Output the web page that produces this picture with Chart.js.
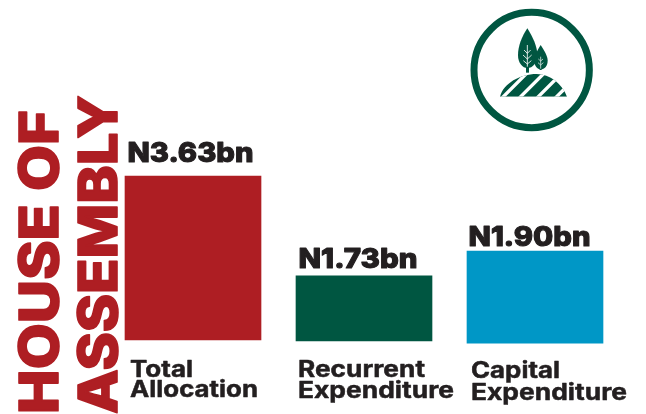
<!DOCTYPE html>
<html>
<head>
<meta charset="utf-8">
<style>
  html, body { margin: 0; padding: 0; background: #fff; }
  #wrap { position: relative; width: 646px; height: 414px; overflow: hidden; }
  #logo { position: absolute; left: 440px; top: 0; }
</style>
<script src="https://cdn.jsdelivr.net/npm/chart.js@4"></script>
</head>
<body>
<div id="wrap">
  <canvas id="chart" width="646" height="414"></canvas>
  <svg id="logo" width="180" height="150" viewBox="0 0 540 450">
    <defs>
      <clipPath id="hillClip">
        <path d="M180 290 C190 250 240 222 290 222 C330 222 365 250 381 290 Z"/>
      </clipPath>
    </defs>
    <circle cx="275" cy="210" r="173" fill="none" stroke="#005641" stroke-width="21"/>
    <!-- big tree -->
    <rect x="258" y="170" width="9" height="48" fill="#005641"/>
    <path d="M262 85 C245 110 234 140 234 165 C234 190 248 204 262 204 C278 204 292 190 292 165 C292 140 278 110 262 85 Z" fill="#005641"/>
    <path d="M262 135 V200 M262 160 L252 150 M262 160 L272 150 M262 177 L249 165 M262 177 L275 165 M262 192 L250 182 M262 192 L274 182" stroke="#fff" stroke-width="2.5" fill="none"/>
    <!-- small tree -->
    <rect x="299" y="190" width="6" height="20" fill="#005641"/>
    <path d="M302 135 C292 150 283 168 283 182 C283 198 292 208 302 208 C314 208 323 198 323 182 C323 168 312 150 302 135 Z" fill="#005641"/>
    <path d="M302 170 V206 M302 183 L295 177 M302 183 L309 177 M302 195 L294 188 M302 195 L310 188" stroke="#fff" stroke-width="2" fill="none"/>
    <!-- hill with stripes -->
    <g clip-path="url(#hillClip)">
      <rect x="170" y="215" width="220" height="80" fill="#005641"/>
      <path d="M180 300 L265 215 M232 300 L317 215 M285 300 L370 215 M340 300 L425 215" stroke="#fff" stroke-width="10" fill="none"/>
    </g>
  </svg>
</div>
<script>
// Chart values
const categories = ["Total Allocation", "Recurrent Expenditure", "Capital Expenditure"];
const amounts = [3.63, 1.73, 1.90];

// Bars in the picture are not drawn to scale with their printed amounts and
// don't share one baseline, so the drawn extents are read off separately
const barBottoms = [0, -0.02, -0.07];
const barTops = [3.63, 1.42, 1.97];

const barColors = ["#AE1E23", "#005641", "#0097C6"];
const titleLines = ["HOUSE OF", "ASSEMBLY"];
const axisLabels = [["Total", "Allocation"], ["Recurrent", "Expenditure"], ["Capital", "Expenditure"]];

const textColor = "#231F20";
const fontFamily = "Inter, 'Open Sans', sans-serif";

// Draw text squeezed or stretched to a given width, thickened with a stroke
function fitText(ctx, text, x, y, width, font, thicken) {
  ctx.save();
  ctx.font = font;
  ctx.textAlign = "left";
  ctx.textBaseline = "alphabetic";
  const natural = ctx.measureText(text).width;
  ctx.translate(x, y);
  ctx.scale(width / natural, 1);
  ctx.fillText(text, 0, 0);
  if (thicken) {
    ctx.strokeStyle = ctx.fillStyle;
    ctx.lineWidth = thicken;
    ctx.lineJoin = "round";
    ctx.strokeText(text, 0, 0);
  }
  ctx.restore();
}

const textPlugin = {
  id: "textPlugin",
  afterDatasetsDraw(chart) {
    const ctx = chart.ctx;

    // Amount above each bar
    const amountSpots = [[127.5, 161.5, 126], [298.5, 268, 119], [468.5, 245.5, 122]];
    ctx.fillStyle = textColor;
    amounts.forEach((amount, i) => {
      const [x, y, w] = amountSpots[i];
      fitText(ctx, `N${amount.toFixed(2)}bn`, x, y, w, `800 27.5px ${fontFamily}`, 1.1);
    });

    // Category names under the bars
    const labelSpots = [
      [[130, 377, 63], [130, 397, 128]],
      [[298, 377, 127], [298, 398, 156]],
      [[471, 378, 89], [471, 400, 156]],
    ];
    axisLabels.forEach((lines, i) => {
      lines.forEach((line, j) => {
        const [x, y, w] = labelSpots[i][j];
        fitText(ctx, line, x, y, w, `700 23px ${fontFamily}`, 0.5);
      });
    });

    // Rotated heading on the left
    const headingSpots = [[57.5, 414, 304], [117, 414, 319]];
    ctx.fillStyle = barColors[0];
    titleLines.forEach((line, i) => {
      const [x, y, w] = headingSpots[i];
      ctx.save();
      ctx.translate(x, y);
      ctx.rotate(-Math.PI / 2);
      fitText(ctx, line, 0, 0, w, `800 54px ${fontFamily}`, 1.6);
      ctx.restore();
    });
  },
};

const ctx = document.getElementById("chart").getContext("2d");
new Chart(ctx, {
  type: "bar",
  data: {
    labels: categories,
    datasets: [
      {
        data: barTops.map((top, i) => [barBottoms[i], top]),
        backgroundColor: barColors,
        borderWidth: 0,
        barThickness: 136,
        borderSkipped: false,
      },
    ],
  },
  options: {
    responsive: false,
    animation: false,
    layout: { padding: { left: 107.5, right: 25.5, top: 0, bottom: 0 } },
    plugins: { legend: { display: false }, tooltip: { enabled: false } },
    scales: {
      x: { display: false },
      y: { display: false, min: -1.638, max: 7.525 },
    },
  },
  plugins: [textPlugin],
});
</script>
</body>
</html>
